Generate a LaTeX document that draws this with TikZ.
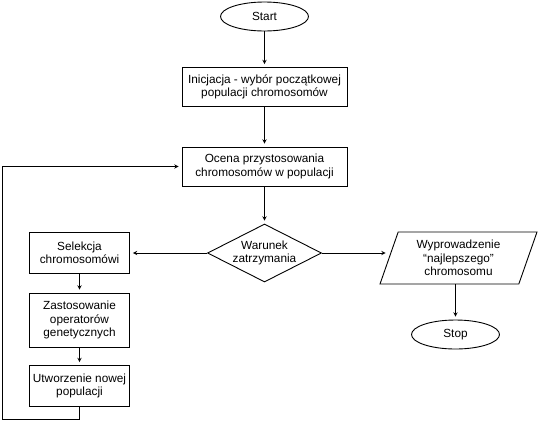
\documentclass[tikz,border=0pt]{standalone}
\usepackage{fontspec}
\setmainfont{Liberation Sans}
\usetikzlibrary{shapes.geometric, arrows}
\tikzstyle{startstop} = [ellipse, minimum width=88pt, minimum height=29pt, inner sep=1pt, text centered, draw=black]
\tikzstyle{process} = [rectangle, minimum width=165pt, minimum height=39pt, inner sep=2pt, align=center, draw=black]
\tikzstyle{smallprocess} = [rectangle, minimum width=100pt, minimum height=41pt, inner sep=2pt, align=center, draw=black]
\tikzstyle{decision} = [diamond, aspect=2, inner sep=0pt, minimum width=114pt, minimum height=58pt, align=center, draw=black]
\tikzstyle{io} = [trapezium, trapezium left angle=64, trapezium right angle=116, trapezium stretches body, minimum width=157pt, minimum height=52pt, inner sep=1pt, align=center, draw=black]
\tikzstyle{arrow} = [->,>=stealth, shorten >=3pt]

\begin{document}
\begin{tikzpicture}[x=1pt, y=-1pt, line width=0.9pt, font=\fontsize{11.8}{13.3}\selectfont]
  \useasboundingbox (0,0) rectangle (540,421);
  \node (start) [startstop] at (264.5,16.5) {Start};
  \node (init) [node distance=70.5pt, process, below of=start] {Inicjacja - wybór początkowej\\populacji chromosomów};
  \node (eval) [node distance=79.5pt, process, below of=init] {Ocena przystosowania\\chromosomów w populacji};
  \node (cond) [node distance=86.5pt, decision, below of=eval] {Warunek\\zatrzymania};
  \node (sel) [node distance=185pt, smallprocess, left of=cond] {Selekcja\\chromosomówi};
  \node (oper) [node distance=67pt, smallprocess, minimum height=54pt, below of=sel] {Zastosowanie\\operatorów\\genetycznych};
  \node (newpop) [node distance=66pt, smallprocess, below of=oper] {Utworzenie nowej\\populacji};
  \node (out) [node distance=194pt, io, right of=cond, yshift=-5pt] {Wyprowadzenie\\“najlepszego”\\chromosomu};
  \node (stop) [node distance=76.5pt, startstop, below of=out, xshift=-3pt] {Stop};
  \coordinate (corner) at (2.5,419);

  \draw [arrow] (start) -- (init);
  \draw [arrow] (init) -- (eval);
  \draw [arrow] (eval) -- (cond);
  \draw [arrow] (cond) -- (sel);
  \draw [arrow] (sel) -- (oper);
  \draw [arrow] (oper) -- (newpop);
  \draw [arrow] (cond.east) -- (cond.east -| out.west);
  \draw [arrow] (stop |- out.south) -- (stop);
  \draw [arrow] (newpop.south) |- (corner) |- (eval.west);
\end{tikzpicture}
\end{document}
